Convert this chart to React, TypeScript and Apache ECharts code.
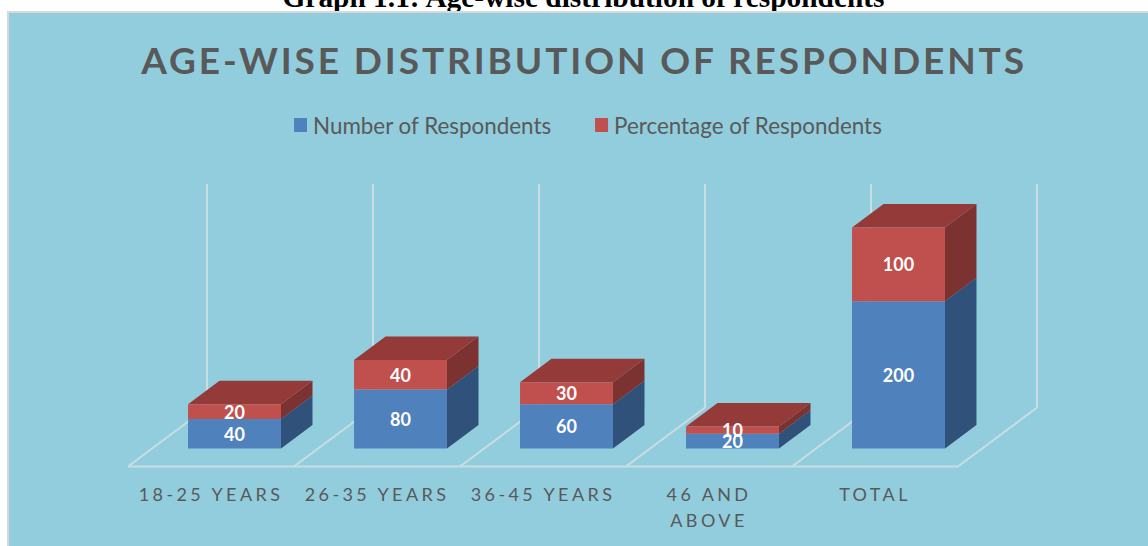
import React, { useEffect, useRef } from "react";
import * as echarts from "echarts";

const heading = "Graph 1.1: Age-wise distribution of respondents";
const chartTitle = "AGE-WISE DISTRIBUTION OF RESPONDENTS";
const categories = ["18-25 YEARS", "26-35 YEARS", "36-45 YEARS", "46 AND\nABOVE", "TOTAL"];
const numberOfRespondents = [40, 80, 60, 20, 200];
const percentageOfRespondents = [20, 40, 30, 10, 100];
const seriesNames = ["Number of Respondents", "Percentage of Respondents"];

const FONT = "Lato";
const TEXT = "#595959";
const WALL = "#c9dde3";
const BG = "#92cddd";

const DEPTH_X = 31.5;
const DEPTH_Y = 23.5;
const BAR_RATIO = 0.56;
const BAR_SHIFT = 0.1416;

function makeRender(front: string, side: string, top: string | null) {
  return (_p: any, api: any) => {
    const i = api.value(0);
    const a = api.coord([i, api.value(1)]);
    const b = api.coord([i, api.value(2)]);
    const band = api.size([1, 0])[0];
    const w = band * BAR_RATIO;
    const x0 = a[0] + band * BAR_SHIFT - w / 2;
    const x1 = x0 + w;
    const children: any[] = [
      {
        type: "polygon",
        shape: { points: [[x1, a[1]], [x1 + DEPTH_X, a[1] - DEPTH_Y], [x1 + DEPTH_X, b[1] - DEPTH_Y], [x1, b[1]]] },
        style: { fill: side },
      },
    ];
    if (top) {
      children.push({
        type: "polygon",
        shape: { points: [[x0, b[1]], [x0 + DEPTH_X, b[1] - DEPTH_Y], [x1 + DEPTH_X, b[1] - DEPTH_Y], [x1, b[1]]] },
        style: { fill: top },
      });
    }
    children.push({
      type: "rect",
      shape: { x: x0, y: b[1], width: w, height: a[1] - b[1] },
      style: { fill: front },
    });
    children.push({
      type: "text",
      x: (x0 + x1) / 2,
      y: (a[1] + b[1]) / 2,
      z2: 5,
      style: {
        text: String(api.value(3)),
        fill: "#ffffff",
        font: `bold 18px ${FONT}`,
        align: "center",
        verticalAlign: "middle",
      },
    });
    return { type: "group", children };
  };
}

export default function App() {
  const ref = useRef<HTMLDivElement>(null);
  useEffect(() => {
    const chart = echarts.init(ref.current!, null, { renderer: "svg" });
    const blue = numberOfRespondents.map((v, i) => [i, 0, v, v]);
    const red = percentageOfRespondents.map((v, i) => [
      i,
      numberOfRespondents[i],
      numberOfRespondents[i] + v,
      v,
    ]);
    const wallXs = [207, 373, 539, 705, 871, 1037];
    const frame: any[] = wallXs.map((x) => ({
      type: "polyline",
      z: 1,
      shape: { points: [[x - 79, 466.5], [x, 407.5], [x, 184]] },
      style: { stroke: WALL, lineWidth: 2, fill: "none" },
    }));
    chart.setOption({
      animation: false,
      textStyle: { fontFamily: FONT },
      graphic: [
        {
          type: "text",
          z: 0,
          x: 583.5,
          y: -18,
          style: {
            text: heading,
            fill: "#000000",
            font: 'bold 29.4px "Liberation Serif"',
            align: "center",
          },
        },
        {
          type: "rect",
          z: 0,
          shape: { x: 8, y: 12, width: 1142, height: 540 },
          style: { fill: BG, stroke: "#d9d9d9", lineWidth: 2 },
        },
        {
          type: "text",
          z: 1,
          x: 584,
          y: 59.5,
          style: {
            text: chartTitle,
            fill: TEXT,
            font: `bold 37px ${FONT}`,
            align: "center",
            verticalAlign: "middle",
          },
        },
        {
          type: "polyline",
          z: 1,
          shape: { points: [[128, 466.5], [958, 466.5]] },
          style: { stroke: WALL, lineWidth: 2, fill: "none" },
        },
        ...frame,
      ],
      legend: {
        left: 289,
        top: 109,
        itemWidth: 13,
        itemHeight: 14,
        itemGap: 43,
        icon: "rect",
        data: seriesNames,
        textStyle: { color: TEXT, fontSize: 22.4, fontFamily: FONT, padding: [0, 0, 0, 1] },
      },
      grid: { left: 128, width: 830, top: 227.5, height: 221 },
      xAxis: {
        type: "category",
        data: categories,
        axisLine: { show: false },
        axisTick: { show: false },
        splitLine: { show: false },
        axisLabel: {
          color: TEXT,
          fontSize: 18,
          fontFamily: FONT,
          margin: 32,
          lineHeight: 26,
          interval: 0,
          verticalAlign: "top",
        },
      },
      yAxis: { type: "value", min: 0, max: 300, show: false },
      series: [
        {
          type: "custom",
          name: seriesNames[0],
          clip: false,
          z: 3,
          itemStyle: { color: "#4f81bd" },
          renderItem: makeRender("#4f81bd", "#30527a", null),
          data: blue,
        },
        {
          type: "custom",
          name: seriesNames[1],
          clip: false,
          z: 4,
          itemStyle: { color: "#c0504d" },
          renderItem: makeRender("#c0504d", "#7c3231", "#943a38"),
          data: red,
        },
      ],
    });
    const spacing = (t: string) => {
      if (t === chartTitle) return "2.9px";
      if (/YEARS|AND|ABOVE|TOTAL/.test(t)) return "3.4px";
      return "";
    };
    ref.current!.querySelectorAll("text").forEach((el) => {
      const s = spacing((el.textContent || "").trim());
      if (s) (el as any).style.letterSpacing = s;
    });
    return () => chart.dispose();
  }, []);
  return (
    <div
      ref={ref}
      style={{ position: "absolute", left: 0, top: 0, width: 1148, height: 546, overflow: "hidden" }}
    />
  );
}
